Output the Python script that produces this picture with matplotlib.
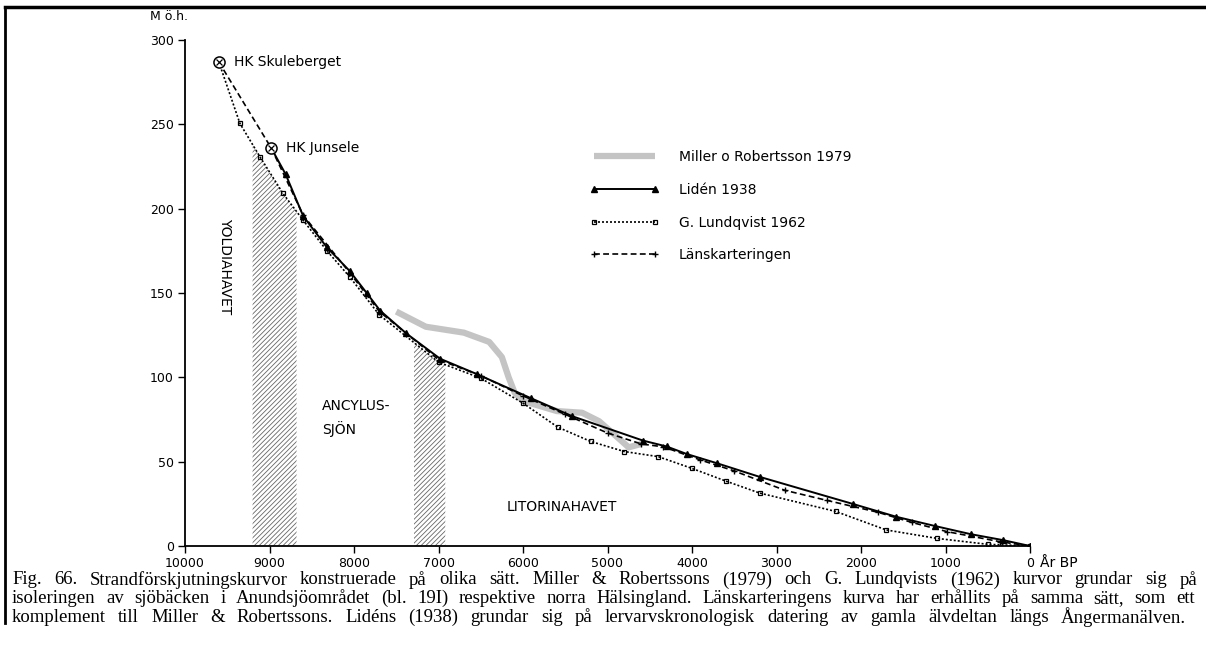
import numpy as np
import matplotlib
matplotlib.use("Agg")
import matplotlib.pyplot as plt
from matplotlib.lines import Line2D

# --- data (years BP, metres above sea level) ---
liden_x = [8980, 8810, 8600, 8320, 8050, 7850, 7690, 7380, 6980, 6550, 5900, 5420,
           4580, 4300, 4060, 3700, 3200, 2100, 1580, 1120, 700, 320, 0]
liden_y = [236, 220.5, 195.5, 177, 163, 150, 139.5, 126, 111, 102, 87.5, 77,
           62.5, 59, 54.5, 49, 41, 25, 17.3, 11.8, 7, 3.5, 0]

lundqvist_x = [9600, 9350, 9110, 8840, 8600, 8320, 8050, 7700, 7000, 6500, 6000,
               5590, 5200, 4800, 4400, 4000, 3600, 3200, 2300, 1700, 1100, 500, 0]
lundqvist_y = [287, 250.5, 230.5, 209, 193, 175, 159.5, 137, 109, 99.5, 84.7,
               70.5, 62, 56, 53, 46, 38.5, 31.4, 20.5, 9.5, 4.5, 1, 0]

lans_x = [9600, 8980, 8600, 8050, 7700, 7000, 6500, 6000, 5500, 5000, 4600, 4340,
          3900, 3500, 2900, 2400, 1800, 1400, 980, 350, 0]
lans_y = [287, 236, 196, 162, 139, 110.5, 101, 89, 78, 67, 60.5, 58.8,
          51, 44.5, 33, 27, 20, 14, 8.5, 2.5, 0]

miller_x = [7500, 7150, 6700, 6400, 6250, 6170, 6100, 6000, 5600, 5300, 5100, 4850, 4750, 4600]
miller_y = [139, 130, 126.5, 121, 112, 100, 91, 86, 80, 79, 74, 63, 58.5, 60.5]

hk_x = [9600, 8980]
hk_y = [287, 236]
hk_names = ["HK Skuleberget", "HK Junsele"]

hatch_spans = [(9200, 8680), (7290, 6920)]

x_ticks = [10000, 9000, 8000, 7000, 6000, 5000, 4000, 3000, 2000, 1000, 0]
y_ticks = [0, 50, 100, 150, 200, 250, 300]

caption = [
    "Fig. 66. Strandförskjutningskurvor konstruerade på olika sätt. Miller & Robertssons (1979) och G. Lundqvists (1962) kurvor grundar sig på",
    "isoleringen av sjöbäcken i Anundsjöområdet (bl. 19I) respektive norra Hälsingland. Länskarteringens kurva har erhållits på samma sätt, som ett",
    "komplement till Miller & Robertssons. Lidéns (1938) grundar sig på lervarvskronologisk datering av gamla älvdeltan längs Ångermanälven.",
]
caption_right = [1197, 1195, 1186]  # right edge (px) of each justified line

plt.rcParams["hatch.linewidth"] = 0.6
plt.rcParams["hatch.color"] = "#666666"

fig = plt.figure(figsize=(12.06, 6.67), dpi=100)
ax = fig.add_axes([185 / 1206, 121 / 667, 845 / 1206, 506 / 667])

# hatched transition zones, topped by the Lundqvist curve
lx = np.array(lundqvist_x[::-1])
ly = np.array(lundqvist_y[::-1])
for x0, x1 in hatch_spans:
    xs = np.linspace(x1, x0, 40)
    ax.fill_between(xs, 0, np.interp(xs, lx, ly), facecolor="white",
                    edgecolor="#666666", hatch="///////", linewidth=0, zorder=1)

ax.plot(miller_x, miller_y, color="#c4c4c4", lw=4.5, solid_capstyle="butt",
        zorder=2, label="Miller o Robertsson 1979")
ax.plot(liden_x, liden_y, color="black", lw=1.4, marker="^", ms=4.5,
        zorder=4, label="Lidén 1938")
ax.plot(lundqvist_x, lundqvist_y, color="black", lw=1.2, ls=(0, (1.2, 1.2)),
        marker="s", ms=3, mfc="none", mew=0.9, zorder=3, label="G. Lundqvist 1962")
ax.plot(lans_x, lans_y, color="black", lw=1.2, ls=(0, (3.5, 2)),
        marker="+", ms=5, mew=1, zorder=3, label="Länskarteringen")

ax.plot(hk_x, hk_y, ls="none", marker="o", ms=8, mfc="white", mec="black",
        mew=1.1, zorder=5)
ax.plot(hk_x, hk_y, ls="none", marker="x", ms=4, color="black", mew=0.9, zorder=6)
for x, y, name in zip(hk_x, hk_y, hk_names):
    ax.annotate(name, (x, y), xytext=(11, 0), textcoords="offset points",
                va="center", ha="left", fontsize=10)

ax.text(9530, 166, "YOLDIAHAVET", rotation=-90, ha="center", va="center", fontsize=10)
ax.text(8380, 76, "ANCYLUS-\nSJÖN", ha="left", va="center", fontsize=10,
        linespacing=1.6)
ax.text(6190, 23, "LITORINAHAVET", ha="left", va="center", fontsize=10)

ax.set_xlim(10000, 0)
ax.set_ylim(0, 300)
ax.set_xticks(x_ticks)
ax.set_yticks(y_ticks)
ax.tick_params(direction="out", length=5, width=1, labelsize=9, pad=3)
for side in ["top", "right"]:
    ax.spines[side].set_visible(False)
for side in ["left", "bottom"]:
    ax.spines[side].set_linewidth(1.3)

ax.text(-120, -10, "År BP", ha="left", va="center", fontsize=10, clip_on=False)
fig.text(150 / 1206, 1 - 17 / 667, "M ö.h.", ha="left", va="center", fontsize=9)

ax.legend(loc="upper left", bbox_to_anchor=(590 / 1206, 1 - 150 / 667),
          bbox_transform=fig.transFigure, frameon=False, fontsize=10,
          handlelength=5.0, handletextpad=1.4, labelspacing=1.35,
          borderpad=0, borderaxespad=0, numpoints=2)

# caption, justified word by word like the printed page
renderer = fig.canvas.get_renderer()
for i, line in enumerate(caption):
    words = line.split(" ")
    y = 1 - (580 + 18.5 * i) / 667
    texts = [fig.text(0, y, w, ha="left", va="center", fontsize=13.5,
                      family="Liberation Serif") for w in words]
    widths = [t.get_window_extent(renderer).width for t in texts]
    gap = (caption_right[i] - 12 - sum(widths)) / (len(words) - 1)
    xpos = 12.0
    for t, w in zip(texts, widths):
        t.set_x(xpos / 1206)
        xpos += w + gap

# scan border
fig.add_artist(Line2D([0.004, 1], [1 - 7 / 667, 1 - 7 / 667], color="black", lw=2.5))
fig.add_artist(Line2D([0.004, 0.004], [1 - 7 / 667, 1 - 623 / 667], color="black", lw=2))

fig.savefig("out.png", dpi=100)
